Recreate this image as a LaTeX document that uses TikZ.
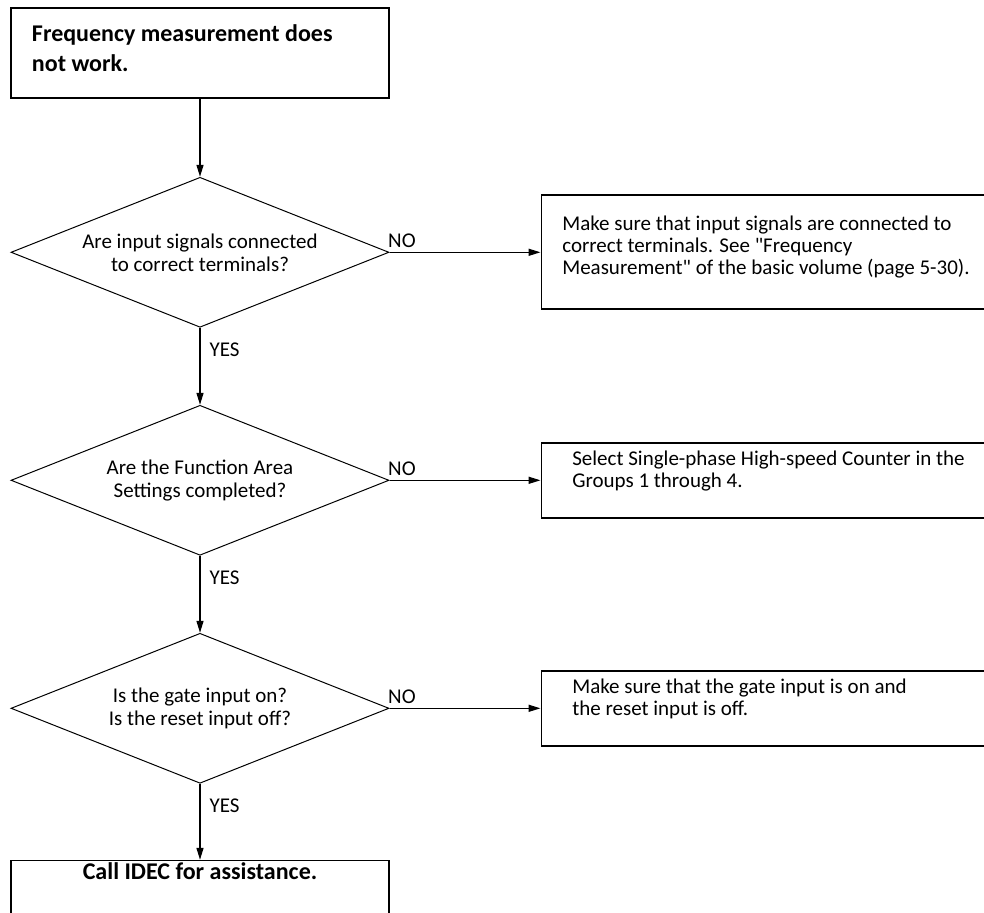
\documentclass[tikz,border=0pt]{standalone}
\usepackage{fontspec}
\setmainfont{Carlito}[Ligatures=TeXOff]
\usetikzlibrary{arrows.meta, positioning, shapes.geometric}

\begin{document}
\begin{tikzpicture}[
    node distance=38.5pt,
    every node/.style={font=\fontsize{10.5pt}{11pt}\selectfont},
    termbox/.style={draw, line width=0.8pt, minimum width=189pt, minimum height=45pt,
                    inner sep=0pt, text height=0pt, font=\fontsize{12pt}{15pt}\selectfont\bfseries},
    query/.style={draw, diamond, aspect=2.52, line width=0.5pt, minimum width=189pt,
                  minimum height=75pt, inner sep=0pt, align=center,
                  font=\fontsize{10.5pt}{11.5pt}\selectfont},
    remedy/.style={draw, line width=0.8pt, align=flush left, minimum height=37.5pt,
                   text width=230pt, inner xsep=15.5pt, inner ysep=0pt,
                   text height=0pt, text depth=14.5pt},
    lbl/.style={inner sep=1pt},
    flow/.style={-{Triangle[length=6pt, width=3.5pt]}, line width=0.7pt}
]
\useasboundingbox (0,0) rectangle (492pt,-456.5pt);
\node[termbox, align=flush left, text width=168pt, inner xsep=10.5pt, text depth=11pt] (start) at (100pt,-26.5pt)
    {Frequency measurement does\\not work.};
\node[query, below=39pt of start] (q1) {Are input signals connected\\to correct terminals?};
\node[query, below=of q1] (q2) {Are the Function Area\\Settings completed?};
\node[query, below=of q2] (q3) {Is the gate input on?\\Is the reset input off?};
\node[termbox, below=38pt of q3, minimum height=40pt, text depth=21pt] (call) {Call IDEC for assistance.};
\node[remedy, right=75.5pt of q1, minimum height=57pt, inner xsep=10.5pt, text depth=22pt] (fix1)
    {Make sure that input signals are connected to\\correct terminals. See "Frequency\\Measurement" of the basic volume (page 5-30).};
\node[remedy, right=75.5pt of q2] (fix2) {Select Single-phase High-speed Counter in the\\Groups 1 through 4.};
\node[remedy, right=75.5pt of q3] (fix3) {Make sure that the gate input is on and\\the reset input is off.};
\draw[flow] (start) -- (q1);
\draw[flow] (q1) -- node[lbl, pos=0.29, anchor=west, xshift=3.5pt] {YES} (q2);
\draw[flow] (q2) -- node[lbl, pos=0.29, anchor=west, xshift=3.5pt] {YES} (q3);
\draw[flow] (q3) -- node[lbl, pos=0.29, anchor=west, xshift=3.5pt] {YES} (call);
\draw[flow] (q1) -- node[lbl, pos=0, anchor=south west, xshift=-2pt, yshift=1pt] {NO} (fix1);
\draw[flow] (q2) -- node[lbl, pos=0, anchor=south west, xshift=-2pt, yshift=1pt] {NO} (fix2);
\draw[flow] (q3) -- node[lbl, pos=0, anchor=south west, xshift=-2pt, yshift=1pt] {NO} (fix3);
\end{tikzpicture}
\end{document}
